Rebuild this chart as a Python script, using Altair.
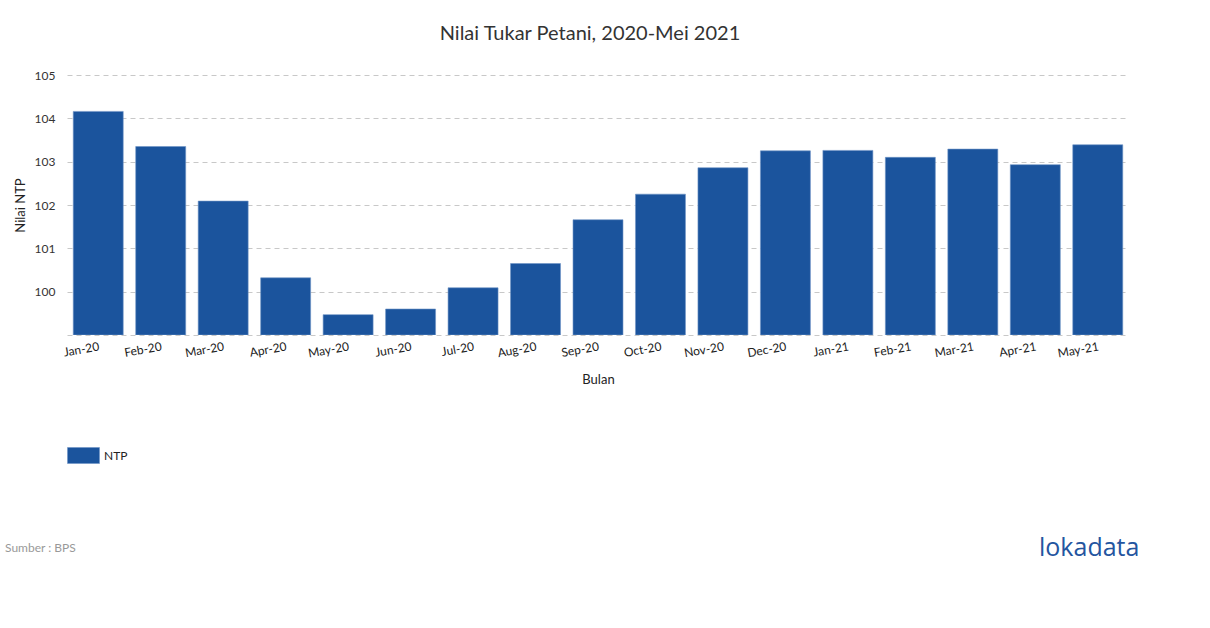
import altair as alt
import pandas as pd

months = ["Jan-20", "Feb-20", "Mar-20", "Apr-20", "May-20", "Jun-20", "Jul-20", "Aug-20",
          "Sep-20", "Oct-20", "Nov-20", "Dec-20", "Jan-21", "Feb-21", "Mar-21", "Apr-21", "May-21"]
ntp = [104.16, 103.35, 102.09, 100.32, 99.47, 99.60, 100.09, 100.65,
       101.66, 102.25, 102.86, 103.25, 103.26, 103.10, 103.29, 102.93, 103.39]
series = ["NTP"] * len(months)

df = pd.DataFrame({"Bulan": months, "NTP": ntp, "Seri": series})

FONT = "Lato"
W, H = 1062, 260

bars = alt.Chart(df).mark_bar(stroke="#6f93c6", strokeWidth=0.6, clip=True).encode(
    x=alt.X("Bulan:N", sort=months,
            scale=alt.Scale(paddingInner=0.2, paddingOuter=0.1),
            axis=alt.Axis(title="Bulan", labelAngle=-10, labelFont=FONT, labelFontSize=12,
                          labelColor="#222", ticks=False, domain=False, grid=False,
                          labelPadding=6, titleFont=FONT, titleFontSize=13,
                          titleFontWeight="normal", titleColor="#222", titlePadding=14)),
    y=alt.Y("NTP:Q", scale=alt.Scale(domain=[99, 105], zero=False, nice=False),
            axis=alt.Axis(title="Nilai NTP", values=[99, 100, 101, 102, 103, 104, 105],
                          labelExpr="datum.value == 99 ? '' : datum.label",
                          labelFont=FONT, labelFontSize=12, labelColor="#333",
                          ticks=False, domain=False, grid=True, gridColor="#c8c8c8",
                          gridDash=[5, 4], gridWidth=1, labelPadding=12,
                          titleFont=FONT, titleFontSize=13, titleFontWeight="normal",
                          titleColor="#222", titlePadding=7)),
    y2=alt.datum(99),
    color=alt.Color("Seri:N", scale=alt.Scale(range=["#1b549d"]),
                    legend=alt.Legend(title=None, orient="none", legendX=0, legendY=364,
                                      symbolType="M-1,-0.5H1V0.5H-1Z", symbolSize=1024,
                                      symbolStrokeWidth=0.6, symbolStrokeColor="#6f93c6",
                                      labelFont=FONT, labelFontSize=12, labelColor="#222",
                                      symbolOpacity=1, labelOffset=4)),
)

source = alt.Chart(pd.DataFrame({"t": ["Sumber : BPS"]})).mark_text(
    align="left", baseline="middle", font=FONT, fontSize=12, color="#999"
).encode(text="t:N", x=alt.value(-62), y=alt.value(473))

logo = alt.Chart(pd.DataFrame({"t": ["lokadata"]})).mark_text(
    align="left", baseline="middle", font="Open Sans", fontSize=25, color="#24559f"
).encode(text="t:N", x=alt.value(972), y=alt.value(473))

chart = alt.layer(bars, source, logo).properties(
    width=W, height=H,
    background="white",
    title=alt.TitleParams("Nilai Tukar Petani, 2020-Mei 2021", font=FONT, fontSize=20,
                          fontWeight="normal", color="#333", anchor="middle", offset=25, dx=-8),
    autosize=alt.AutoSizeParams(type="none"),
    padding={"left": 67, "top": 75, "right": 1210 - 67 - W, "bottom": 628 - 75 - H},
).configure_view(stroke=None, strokeWidth=0)

chart.save("out.html", embed_options={"renderer": "svg", "actions": False})
